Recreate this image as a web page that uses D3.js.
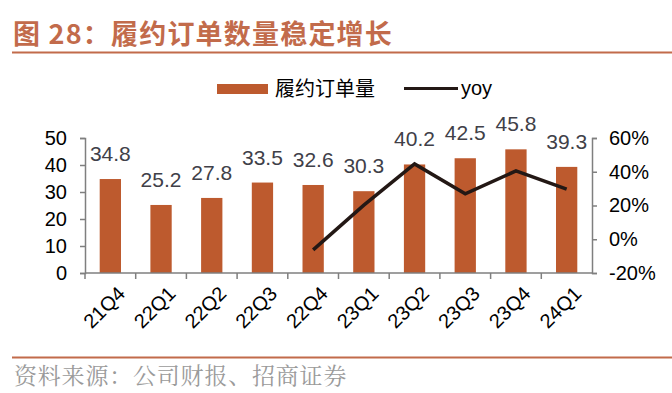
<!DOCTYPE html>
<html>
<head>
<meta charset="utf-8">
<script src="https://cdn.jsdelivr.net/npm/d3@7"></script>
<style>
  body { margin: 0; background: #fff; }
  text { font-family: Arial, "Liberation Sans", "Noto Sans CJK SC", sans-serif; }
</style>
</head>
<body>
<div id="chart"></div>
<script>
// data
var quarters = ["21Q4", "22Q1", "22Q2", "22Q3", "22Q4", "23Q1", "23Q2", "23Q3", "23Q4", "24Q1"];
var orders = [34.8, 25.2, 27.8, 33.5, 32.6, 30.3, 40.2, 42.5, 45.8, 39.3];
var yoyQuarters = ["22Q4", "23Q1", "23Q2", "23Q3", "23Q4", "24Q1"];
var yoy = [-6.3, 20.2, 44.6, 26.9, 40.5, 29.7];
var leftTicks = [0, 10, 20, 30, 40, 50];
var rightTicks = [-20, 0, 20, 40, 60];

var W = 672, H = 393;
var accent = "#C26B4B", barColor = "#BD5A2E", axisColor = "#7f7f7f";
var cjk = "'Noto Sans CJK SC', sans-serif";

var svg = d3.select("#chart").append("svg")
  .attr("width", W).attr("height", H);

// title
svg.append("text")
  .attr("x", 13).attr("y", 44)
  .style("font-family", cjk)
  .style("font-size", "27px").style("font-weight", "bold")
  .style("letter-spacing", "1.2px")
  .style("fill", accent)
  .text("图 28：履约订单数量稳定增长");
svg.append("line")
  .attr("x1", 12).attr("x2", W).attr("y1", 52.5).attr("y2", 52.5)
  .style("stroke", accent).style("stroke-width", 2);

// scales
var x = d3.scaleBand().domain(quarters).range([85, 592]).paddingInner(0.58).paddingOuter(0.29);
var band = d3.scaleBand().domain(quarters).range([85, 592]);
var yL = d3.scaleLinear().domain([0, 50]).range([273, 138]);
var yR = d3.scaleLinear().domain([-20, 60]).range([273, 138]);

// bars
svg.selectAll("rect.bar")
  .data(orders)
  .enter()
  .append("rect")
  .attr("class", "bar")
  .attr("x", function (d, i) { return x(quarters[i]); })
  .attr("y", function (d) { return yL(d); })
  .attr("width", x.bandwidth())
  .attr("height", function (d) { return yL(0) - yL(d); })
  .style("fill", barColor);

// bar labels
svg.selectAll("text.lbl")
  .data(orders)
  .enter()
  .append("text")
  .attr("class", "lbl")
  .attr("x", function (d, i) { return band(quarters[i]) + band.bandwidth() / 2; })
  .attr("y", function (d) { return yL(d) - 18; })
  .attr("text-anchor", "middle")
  .style("font-size", "21px")
  .style("fill", "#404048")
  .text(function (d) { return d.toFixed(1); });

// yoy line
var line = d3.line()
  .x(function (d, i) { return band(yoyQuarters[i]) + band.bandwidth() / 2; })
  .y(function (d) { return yR(d); });
svg.append("path")
  .datum(yoy)
  .attr("d", line)
  .style("fill", "none")
  .style("stroke", "#231815")
  .style("stroke-width", 3.5);

// axes
var leftAxis = svg.append("g")
  .attr("transform", "translate(85,0)")
  .call(d3.axisLeft(yL).tickValues(leftTicks).tickSize(5).tickPadding(13));
var rightAxis = svg.append("g")
  .attr("transform", "translate(592,0)")
  .call(d3.axisRight(yR).tickValues(rightTicks).tickSize(5).tickPadding(12)
    .tickFormat(function (d) { return d + "%"; }));
[leftAxis, rightAxis].forEach(function (g) {
  g.select(".domain").style("stroke", axisColor).style("stroke-width", 1.5);
  g.selectAll(".tick line").style("stroke", axisColor).style("stroke-width", 1.5);
  g.selectAll(".tick text").style("font-size", "20px").style("fill", "#000")
    .style("font-family", "Arial, 'Liberation Sans', sans-serif");
});

// x axis line and ticks at category boundaries
svg.append("line")
  .attr("x1", 85).attr("x2", 592).attr("y1", 273).attr("y2", 273)
  .style("stroke", axisColor).style("stroke-width", 1.5);
svg.selectAll("line.xt")
  .data(quarters)
  .enter()
  .append("line")
  .attr("class", "xt")
  .attr("x1", function (d) { return band(d); })
  .attr("x2", function (d) { return band(d); })
  .attr("y1", 273).attr("y2", 279)
  .style("stroke", axisColor).style("stroke-width", 1.5);
svg.selectAll("text.xl")
  .data(quarters)
  .enter()
  .append("text")
  .attr("class", "xl")
  .attr("transform", function (d) {
    return "translate(" + (band(d) + band.bandwidth() / 2 + 6) + ",285) rotate(-45)";
  })
  .attr("text-anchor", "end")
  .attr("dy", "0.7em")
  .style("font-size", "20px")
  .style("fill", "#000")
  .text(function (d) { return d; });

// legend
svg.append("rect")
  .attr("x", 217).attr("y", 84).attr("width", 51).attr("height", 10)
  .style("fill", barColor);
svg.append("text")
  .attr("x", 275).attr("y", 96)
  .style("font-family", cjk).style("font-size", "20px").style("fill", "#000")
  .text("履约订单量");
svg.append("line")
  .attr("x1", 404).attr("x2", 458).attr("y1", 88.5).attr("y2", 88.5)
  .style("stroke", "#231815").style("stroke-width", 3);
svg.append("text")
  .attr("x", 461).attr("y", 95)
  .style("font-size", "20px").style("fill", "#000")
  .text("yoy");

// source
svg.append("line")
  .attr("x1", 12).attr("x2", W).attr("y1", 357.5).attr("y2", 357.5)
  .style("stroke", accent).style("stroke-width", 2);
svg.append("text")
  .attr("x", 14).attr("y", 384)
  .style("font-family", "'Noto Serif CJK SC', 'Noto Sans CJK SC', serif")
  .style("font-size", "23px").style("letter-spacing", "0.8px")
  .style("fill", "#9a9a9a")
  .text("资料来源：公司财报、招商证券");
</script>
</body>
</html>
